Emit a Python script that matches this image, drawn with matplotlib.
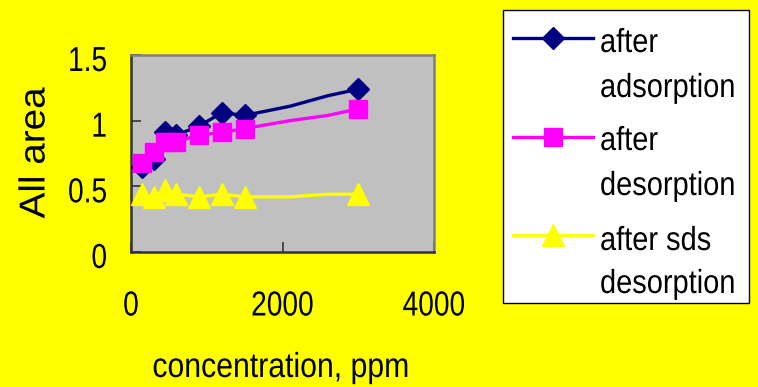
import matplotlib
matplotlib.use("Agg")
import matplotlib.pyplot as plt
from matplotlib.patheffects import AbstractPathEffect
from matplotlib.transforms import Affine2D, ScaledTranslation
from matplotlib.lines import Line2D
from matplotlib.patches import Rectangle

# Data
conc = [150, 300, 450, 600, 900, 1200, 1500, 2100, 2600, 3000]
after_adsorption = [0.65, 0.71, 0.91, 0.89, 0.96, 1.06, 1.04, 1.11, 1.19, 1.24]
after_desorption = [0.68, 0.76, 0.84, 0.84, 0.89, 0.91, 0.94, 1.00, 1.04, 1.09]
after_sds_desorption = [0.44, 0.42, 0.47, 0.44, 0.42, 0.44, 0.42, 0.42, 0.44, 0.44]
marker_idx = [0, 1, 2, 3, 4, 5, 6, 9]
series_labels = [["after", "adsorption"], ["after", "desorption"], ["after sds", "desorption"]]
x_ticks = [0, 2000, 4000]
y_ticks = [0, 0.5, 1, 1.5]
y_tick_labels = ["0", "0.5", "1", "1.5"]

plt.rcParams['font.family'] = ['Liberation Sans', 'DejaVu Sans']


class Condense(AbstractPathEffect):
    """Horizontally scale text glyphs (narrow font look)."""
    def __init__(self, sx, anchor='center'):
        super().__init__()
        self.sx = sx
        self.anchor = anchor

    def draw_path(self, renderer, gc, tpath, affine, rgbFace=None):
        ext = tpath.get_extents()
        if self.anchor == 'left':
            x0 = 0.0
        elif self.anchor == 'right':
            x0 = ext.x1
        else:
            x0 = (ext.x0 + ext.x1) / 2
        t = Affine2D().translate(-x0, 0).scale(self.sx, 1).translate(x0, 0) + affine
        renderer.draw_path(gc, tpath, t, rgbFace)


W, H = 758, 387
fig = plt.figure(figsize=(W / 100, H / 100), dpi=100, facecolor='#FFFF00')
ax = fig.add_axes([131 / W, 1 - 252 / H, (434 - 131) / W, (252 - 55) / H])
ax.set_facecolor('#C0C0C0')

colors = ['#000080', '#FF00FF', '#FFFF00']
markers = ['D', 's', '^']
msizes = [11, 13, 16]
series = [after_adsorption, after_desorption, after_sds_desorption]
zorders = [3, 4, 3]
lw = 2.4
for vals, c, m, ms, z in zip(series, colors, markers, msizes, zorders):
    ax.plot(conc, vals, color=c, lw=lw, marker=m, ms=ms, markevery=marker_idx,
            zorder=z, clip_on=False)

ax.set_xlim(0, 4000)
ax.set_ylim(0, 1.5)
ax.set_xticks(x_ticks)
ax.set_yticks(y_ticks)
ax.set_yticklabels(y_tick_labels)
ax.tick_params(axis='both', direction='in', length=7, width=1.2, colors='#333333',
               labelcolor='black', labelsize=25)
ax.tick_params(axis='y', pad=17)
ax.tick_params(axis='x', pad=27)
for s in ['left', 'bottom']:
    ax.spines[s].set_color('#333333')
    ax.spines[s].set_linewidth(1.8)
for s in ['top', 'right']:
    ax.spines[s].set_color('#808080')
    ax.spines[s].set_linewidth(1.8)

yoff = ScaledTranslation(0, -3 / 100, fig.dpi_scale_trans)
for lab in ax.get_yticklabels():
    lab.set_path_effects([Condense(0.81, 'right')])
    lab.set_transform(lab.get_transform() + yoff)
for lab in ax.get_xticklabels():
    lab.set_path_effects([Condense(0.81, 'center')])

fig.text(35 / W, 1 - 153 / H, "All area", rotation=90, ha='center', va='center',
         fontsize=26, path_effects=[Condense(1.07, 'center')])
fig.text(281 / W, 1 - 377 / H, "concentration, ppm", ha='center', va='baseline',
         fontsize=25, path_effects=[Condense(0.87, 'center')])

# Legend (drawn manually to match the boxed, two-line layout)
fig.add_artist(Rectangle((503 / W, 1 - 303 / H), (749 - 503) / W, (303 - 10) / H,
                         transform=fig.transFigure, facecolor='white',
                         edgecolor='black', lw=1.0, zorder=1))
handle_y = [38, 137, 235]
baselines = [[52, 97], [150, 195], [250, 293]]
for c, m, ms, hy, bl, lab in zip(colors, markers, msizes, handle_y, baselines, series_labels):
    fig.add_artist(Line2D([513 / W, 553 / W, 593 / W], [1 - hy / H] * 3,
                          transform=fig.transFigure, color=c, lw=lw, marker=m,
                          ms=ms, markevery=[1], zorder=2))
    for line_text, b in zip(lab, bl):
        fig.text(600 / W, 1 - b / H, line_text, ha='left', va='baseline', fontsize=24,
                 path_effects=[Condense(0.87, 'left')], zorder=3)

fig.savefig("out.png", dpi=100, facecolor=fig.get_facecolor())
